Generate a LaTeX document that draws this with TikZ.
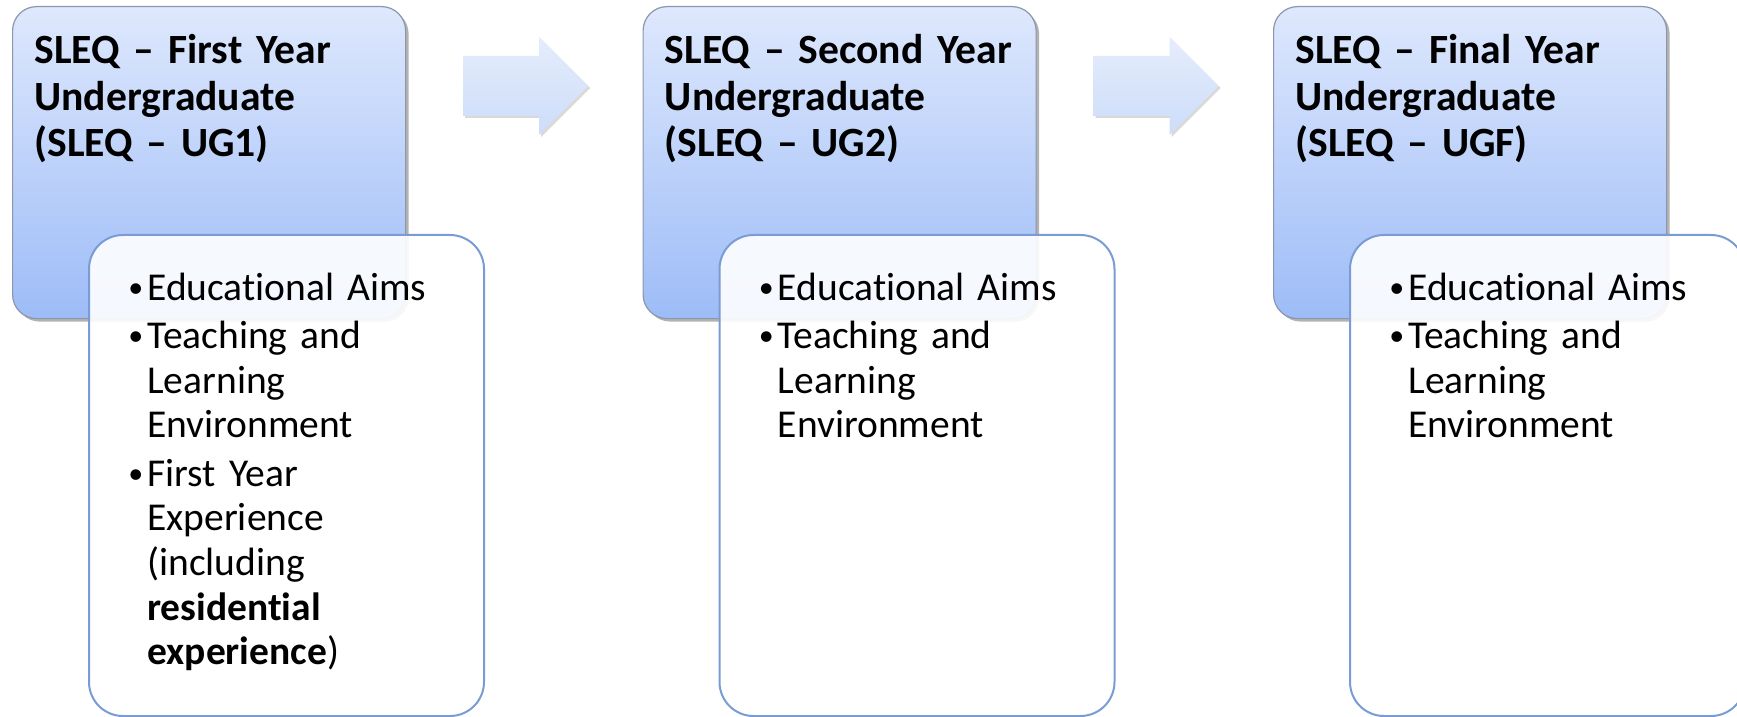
\documentclass[tikz,border=0pt]{standalone}
\usepackage{fontspec}
\setmainfont{Carlito}[Ligatures={TeX,NoCommon}]
\usetikzlibrary{shadows}
\definecolor{stagetop}{RGB}{222,232,253}
\definecolor{stagebot}{RGB}{157,188,247}
\definecolor{stageedge}{RGB}{140,150,172}
\definecolor{listedge}{RGB}{122,156,212}
\definecolor{arrowtop}{RGB}{229,237,252}
\definecolor{arrowbot}{RGB}{205,220,249}
\newcommand{\stageitem}[1]{\setlength{\parskip}{2pt}\hangindent=10pt\hangafter=1\noindent
  \makebox[10pt][l]{\hspace{0.5pt}\raisebox{1.4pt}{\fontsize{15}{15}\selectfont\textbullet}}#1\par}
\tikzset{
  stagebox/.style={draw=stageedge,line width=0.6pt,rounded corners=12pt,
    top color=stagetop,bottom color=stagebot,anchor=north west,
    minimum width=196.5pt,minimum height=156pt,
    drop shadow={shadow xshift=1.5pt,shadow yshift=-1.5pt,fill=black,opacity=0.3}},
  listbox/.style={draw=listedge,line width=1pt,rounded corners=17pt,
    fill=white,fill opacity=0.9,anchor=north west,
    minimum width=197.5pt,minimum height=240.5pt},
  stagearrow/.style={top color=arrowtop,bottom color=arrowbot,
    drop shadow={shadow xshift=1pt,shadow yshift=-1pt,fill=black,opacity=0.15}},
  stagetitle/.style={anchor=base west,inner sep=0pt,text width=185pt,align=left,
    font=\bfseries\fontsize{20.8}{23.25}\selectfont},
  listtext/.style={anchor=base west,inner sep=0pt,text width=170pt,
    font=\fontsize{19.75}{22.3}\selectfont}
}
\begin{document}
\begin{tikzpicture}[x=0.5pt,y=-0.5pt]
  \useasboundingbox (0,0) rectangle (1737,717);
  \foreach \i in {1,2,3} {
    \pgfmathsetmacro\xo{(\i-1)*630.5}
    \node[stagebox] (stage\i) at (\xo+12,6) {};
    \node[listbox] (list\i) at (\xo+88,234) {};
  }
  \foreach \i in {1,2} {
    \pgfmathsetmacro\xo{(\i-1)*630.5}
    \path[stagearrow] (\xo+463,56) -- ++(76,0) -- ++(0,-19) -- (\xo+588,86)
      -- (\xo+539,135) -- ++(0,-19) -- (\xo+463,116) -- cycle;
  }
  \node[stagetitle] (title1) at ([shift={(22,58)}]stage1.north west)
    {SLEQ -- First Year\\Undergraduate\\(SLEQ -- UG1)};
  \node[stagetitle] (title2) at ([shift={(22,58)}]stage2.north west)
    {SLEQ -- Second Year\\Undergraduate\\(SLEQ -- UG2)};
  \node[stagetitle] (title3) at ([shift={(22,58)}]stage3.north west)
    {SLEQ -- Final Year\\Undergraduate\\(SLEQ -- UGF)};
  \node[listtext] (items1) at ([shift={(39,66)}]list1.north west) {%
    \stageitem{Educational Aims}%
    \stageitem{Teaching and\newline Learning\newline Environment}%
    \stageitem{First Year\newline Experience\newline (including\newline
      \textbf{residential}\newline \textbf{experience})}};
  \node[listtext] (items2) at ([shift={(39,66)}]list2.north west) {%
    \stageitem{Educational Aims}%
    \stageitem{Teaching and\newline Learning\newline Environment}};
  \node[listtext] (items3) at ([shift={(39,66)}]list3.north west) {%
    \stageitem{Educational Aims}%
    \stageitem{Teaching and\newline Learning\newline Environment}};
\end{tikzpicture}
\end{document}
